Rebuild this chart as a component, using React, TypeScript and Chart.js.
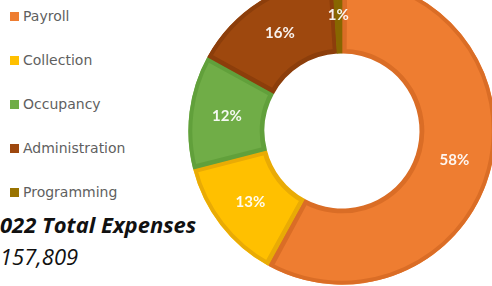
import React, { useEffect, useRef } from "react";
import { Chart, registerables } from "chart.js";

Chart.register(...registerables);

const categories = ["Payroll", "Collection", "Occupancy", "Administration", "Programming"];
const shares = [58, 13, 12, 16, 1];
const fillColors = ["#EE7D31", "#FFC000", "#70AD47", "#9E480E", "#997300"];
const rimColors = ["#DA6D26", "#E9AB05", "#61A03B", "#8C3E0B", "#876600"];
const titleText = "022 Total Expenses";
const totalText = "157,809";

const sliceLabelPlugin = {
  id: "sliceLabels",
  afterDatasetsDraw(chart: any) {
    const ctx = chart.ctx;
    const meta = chart.getDatasetMeta(0);
    const data = chart.data.datasets[0].data as number[];
    const total = data.reduce((a: number, b: number) => a + b, 0);
    ctx.save();
    ctx.font = "bold 15px Lato";
    ctx.fillStyle = "rgba(255,255,255,0.93)";
    ctx.textAlign = "center";
    ctx.textBaseline = "middle";
    meta.data.forEach((arc: any, i: number) => {
      const p = arc.tooltipPosition(false);
      ctx.fillText(Math.round((data[i] / total) * 100) + "%", p.x, p.y);
    });
    ctx.restore();
  },
};

export default function App() {
  const canvasRef = useRef<HTMLCanvasElement | null>(null);

  useEffect(() => {
    if (!canvasRef.current) return;
    const chart = new Chart(canvasRef.current, {
      type: "doughnut",
      data: {
        labels: categories,
        datasets: [
          {
            data: shares,
            backgroundColor: fillColors,
            borderColor: rimColors,
            borderWidth: 4,
            borderAlign: "inner",
            spacing: 1,
          } as any,
        ],
      },
      options: {
        animation: false,
        responsive: false,
        devicePixelRatio: 1,
        cutout: "50.5%",
        layout: { padding: 0 },
        plugins: {
          legend: { display: false },
          tooltip: { enabled: false },
          title: { display: false },
        },
        events: [],
      } as any,
      plugins: [sliceLabelPlugin],
    });
    return () => chart.destroy();
  }, []);

  return (
    <div
      style={{
        position: "fixed",
        left: 0,
        top: 0,
        width: 492,
        height: 286,
        overflow: "hidden",
        background: "#ffffff",
      }}
    >
      {categories.map((name, i) => (
        <div
          key={name}
          style={{
            position: "absolute",
            left: 10,
            top: 6 + i * 44,
            height: 20,
            lineHeight: "20px",
            fontFamily: "'DejaVu Sans', sans-serif",
            fontSize: 14,
            color: "#5f5f5f",
            whiteSpace: "nowrap",
          }}
        >
          <span
            style={{
              position: "absolute",
              left: 0,
              top: 6,
              width: 9,
              height: 9,
              background: fillColors[i],
            }}
          />
          <span style={{ position: "absolute", left: 13, top: 0 }}>{name}</span>
        </div>
      ))}
      <div
        style={{
          position: "absolute",
          left: 0,
          top: 209,
          fontFamily: "'Open Sans', sans-serif",
          fontWeight: 700,
          fontStyle: "italic",
          fontSize: 22,
          color: "#111111",
          whiteSpace: "nowrap",
        }}
      >
        {titleText}
      </div>
      <div
        style={{
          position: "absolute",
          left: 0,
          top: 241,
          fontFamily: "'Open Sans', sans-serif",
          fontWeight: 400,
          fontStyle: "italic",
          fontSize: 22,
          color: "#111111",
          whiteSpace: "nowrap",
        }}
      >
        {totalText}
      </div>
      <div style={{ position: "absolute", left: 188, top: -23, width: 308, height: 308 }}>
        <canvas ref={canvasRef} width={308} height={308} style={{ width: 308, height: 308 }} />
      </div>
    </div>
  );
}
